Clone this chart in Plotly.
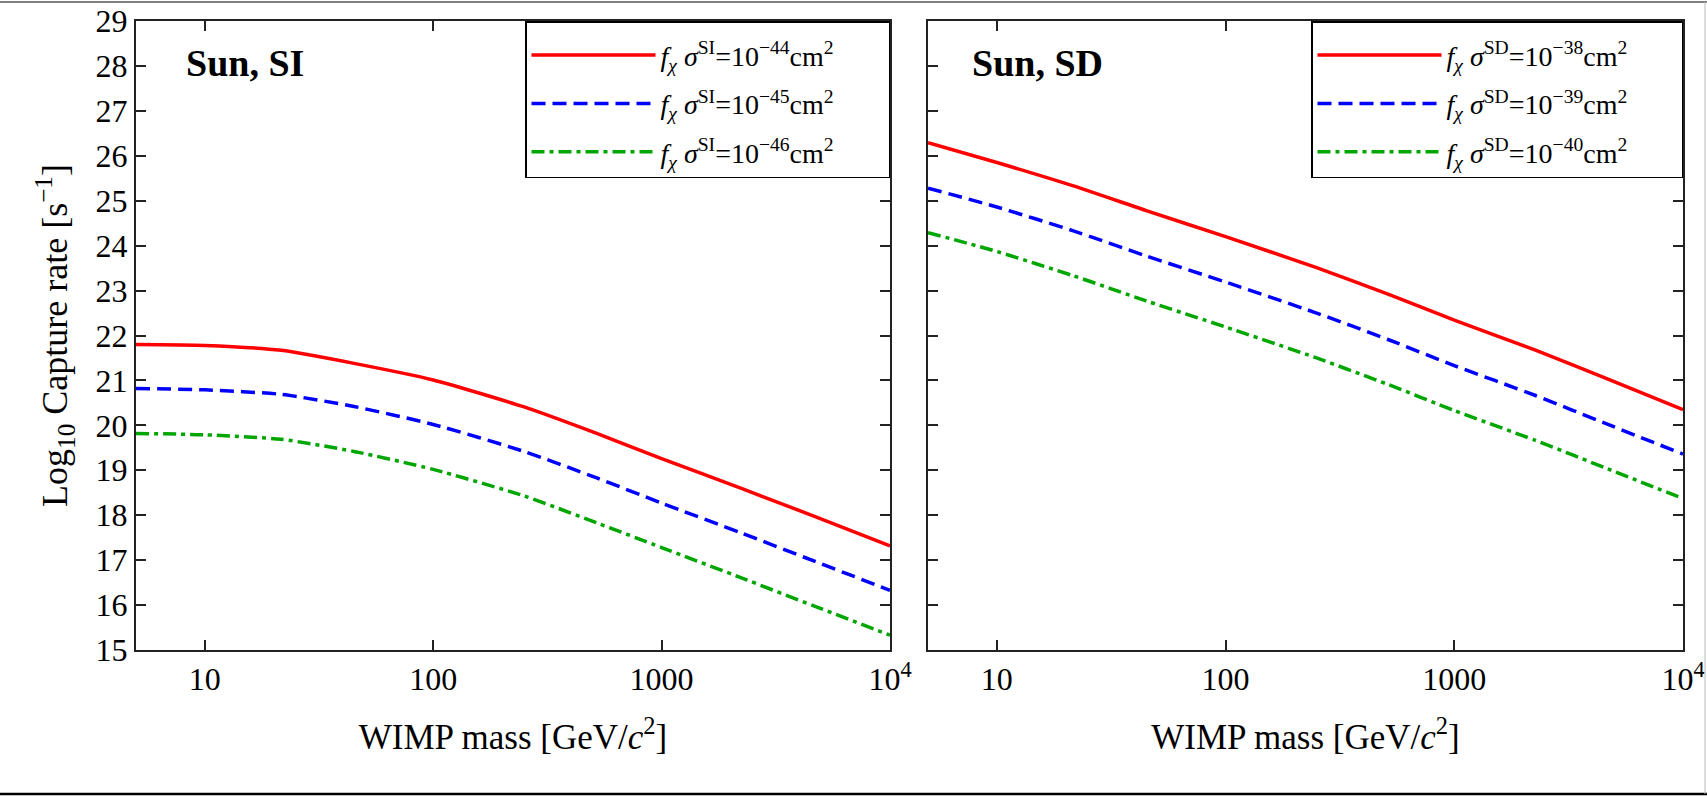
import plotly.graph_objects as go
import numpy as np

# WIMP masses [GeV/c^2]
mass = [5, 10, 21.6, 45, 100, 250, 520, 1000, 2250, 4700, 10000]

# Sun, SI : log10 capture rate
si_44 = [21.80, 21.78, 21.67, 21.38, 21.01, 20.41, 19.82, 19.26, 18.59, 17.97, 17.32]
si_45 = [20.82, 20.79, 20.69, 20.42, 20.02, 19.42, 18.83, 18.27, 17.60, 16.97, 16.33]
si_46 = [19.82, 19.79, 19.69, 19.42, 19.02, 18.43, 17.83, 17.28, 16.60, 15.97, 15.33]

# Sun, SD : log10 capture rate
sd_38 = [26.29, 25.85, 25.33, 24.78, 24.20, 23.51, 22.91, 22.34, 21.68, 21.03, 20.35]
sd_39 = [25.28, 24.86, 24.33, 23.77, 23.19, 22.50, 21.90, 21.33, 20.67, 20.02, 19.36]
sd_40 = [24.29, 23.87, 23.33, 22.77, 22.19, 21.50, 20.90, 20.33, 19.67, 19.03, 18.37]

si_labels = ["10<sup>−44</sup>", "10<sup>−45</sup>", "10<sup>−46</sup>"]
sd_labels = ["10<sup>−38</sup>", "10<sup>−39</sup>", "10<sup>−40</sup>"]

x_tickvals = [10, 100, 1000, 10000]
x_ticktext = ["10", "100", "1000", "10<sup>4</sup>"]

SERIF = "Liberation Serif, Times New Roman, serif"
colors = ["#ff0000", "#0000ff", "#00a600"]
dashes = ["solid", "14px,7px", "13px,5px,4px,5px"]

fig = go.Figure()

def add_set(series, labels, tag, xaxis, yaxis, legend):
    for i, (ys, lab) in enumerate(zip(series, labels)):
        fig.add_trace(go.Scatter(
            x=mass, y=ys, mode="lines",
            line=dict(color=colors[i], width=3.5, dash=dashes[i], shape="spline", smoothing=0.6),
            name=(f"<i>f</i><sub><i>χ</i></sub>\u00a0<i>σ</i><sup>{tag}</sup>={lab}cm<sup>2</sup>"
                  + "\u00a0" * 7),
            xaxis=xaxis, yaxis=yaxis, legend=legend, legendgroup=f"{legend}{i}",
        ))

add_set([si_44, si_45, si_46], si_labels, "SI", "x", "y", "legend")
add_set([sd_38, sd_39, sd_40], sd_labels, "SD", "x2", "y2", "legend2")

axis_common = dict(
    showline=True, linecolor="#222", linewidth=2, mirror="ticks",
    ticks="inside", ticklen=10, tickwidth=1.5, tickcolor="#222",
    showgrid=False, zeroline=False, automargin=False,
    tickfont=dict(family=SERIF, size=32, color="black"),
)

xaxis_common = dict(
    axis_common, type="log", range=[np.log10(5), 4],
    tickvals=x_tickvals, ticktext=x_ticktext,
    title=dict(text="WIMP mass [GeV/<i>c</i><sup>2</sup>]",
               font=dict(family=SERIF, size=35, color="black"), standoff=28),
)

legend_common = dict(
    bgcolor="white", bordercolor="black", borderwidth=1.5,
    font=dict(family=SERIF, size=28, color="black"),
    title=dict(text="\u00a0", font=dict(size=6)),
    itemwidth=124, tracegroupgap=9, yanchor="top", y=1.0, xanchor="right",
)

L, R, T, B = 136, 24, 21, 146
W, H = 1707, 796
pw = W - L - R
ph = H - T - B

def px_x(p):
    return (p - L) / pw

def px_y(p):
    return (H - B - p) / ph

fig.update_layout(
    template="none",
    width=W, height=H,
    margin=dict(l=L, r=R, t=T, b=B, autoexpand=False),
    paper_bgcolor="white", plot_bgcolor="white",
    font=dict(family=SERIF, color="black"),
    xaxis=dict(xaxis_common, domain=[0, px_x(890)], anchor="y"),
    xaxis2=dict(xaxis_common, domain=[px_x(928), 1], anchor="y2"),
    yaxis=dict(axis_common, range=[15, 29], dtick=1, domain=[0, 1], anchor="x",
               title=dict(text="Log<sub>10</sub> Capture rate [s<sup>−1</sup>]",
                          font=dict(family=SERIF, size=36, color="black"), standoff=17)),
    yaxis2=dict(axis_common, range=[15, 29], dtick=1, domain=[0, 1], anchor="x2",
                showticklabels=False),
    legend=dict(legend_common, x=px_x(890)),
    legend2=dict(legend_common, x=1.0),
    showlegend=True,
    annotations=[
        dict(text="<b>Sun, SI</b>", xref="x domain", yref="y domain", x=0.064, y=0.933,
             xanchor="left", yanchor="middle", showarrow=False,
             font=dict(family=SERIF, size=38, color="black")),
        dict(text="<b>Sun, SD</b>", xref="x2 domain", yref="y2 domain", x=0.056, y=0.933,
             xanchor="left", yanchor="middle", showarrow=False,
             font=dict(family=SERIF, size=38, color="black")),
    ],
    shapes=[
        dict(type="line", xref="paper", yref="paper",
             x0=px_x(0), x1=px_x(W), y0=px_y(2), y1=px_y(2),
             line=dict(color="#555", width=1.5)),
        dict(type="line", xref="paper", yref="paper",
             x0=px_x(0), x1=px_x(W), y0=px_y(794), y1=px_y(794),
             line=dict(color="black", width=2.5)),
        dict(type="line", xref="paper", yref="paper",
             x0=px_x(1705), x1=px_x(1705), y0=px_y(2), y1=px_y(794),
             line=dict(color="#bbb", width=1)),
    ],
)

fig.write_html("out.html")
